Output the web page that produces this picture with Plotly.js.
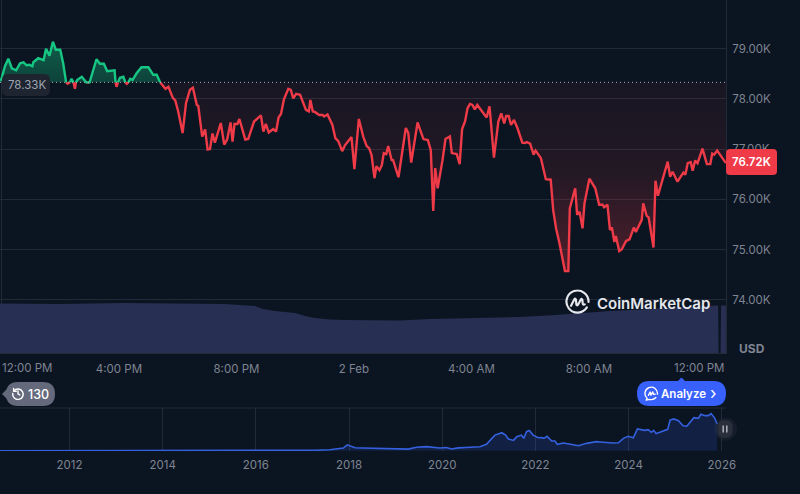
<!DOCTYPE html>
<html>
<head>
<meta charset="utf-8">
<script src="https://cdn.plot.ly/plotly-3.0.1.min.js"></script>
<style>html,body{margin:0;padding:0;background:#0b1421;overflow:hidden}#chart{width:800px;height:494px}</style>
</head>
<body>
<div id="chart"></div>
<script>
// Minutes after 12:00 PM, price in thousands of USD
const priceMinutes = [-3,0,7,14,21,30,38,45,51,57,63,65,75,86,91,98,105,111,120,126,132,135,140,143,147,150,152,155,164,173,180,194,201,209,216,231,233,235,238,242,249,253,256,259,263,268,276,286,300,310,317,324,335,341,350,355,361,370,377,385,391,399,402,410,416,421,426,431,436,448,455,461,468,472,476,482,486,498,504,516,530,535,540,546,555,561,566,571,577,586,591,596,602,610,622,628,631,636,640,649,656,659,666,676,682,688,696,702,715,721,730,739,746,751,756,762,766,772,777,781,786,790,797,800,811,826,831,837,850,862,871,877,882,886,891,901,907,916,920,930,936,941,947,952,957,962,967,972,991,997,1006,1015,1021,1027,1031,1036,1041,1047,1054,1064,1070,1073,1080,1087,1091,1102,1112,1122,1127,1133,1140,1151,1158,1161,1172,1176,1181,1187,1191,1201,1213,1221,1228,1231,1238,1243,1247,1252,1255,1262,1267,1276,1283,1292,1296,1308,1311,1318,1322,1332,1336,1341,1352,1361,1366,1371,1381,1393,1397,1402,1408,1412,1417,1422,1432,1441,1448,1452,1456,1462,1480];
const priceK = [78.36,78.40,78.65,78.80,78.61,78.57,78.71,78.73,78.67,78.68,78.65,78.73,78.81,78.77,79.00,78.86,79.14,78.98,78.98,78.71,78.33,78.30,78.33,78.40,78.33,78.20,78.33,78.38,78.44,78.33,78.33,78.79,78.70,78.70,78.55,78.57,78.33,78.24,78.33,78.42,78.44,78.33,78.30,78.33,78.40,78.38,78.51,78.63,78.63,78.48,78.48,78.33,78.20,78.24,78.02,77.97,77.75,77.32,77.92,78.18,78.22,77.88,77.86,77.25,77.39,76.99,77.00,77.31,77.13,77.52,77.09,77.19,77.53,77.15,77.50,77.50,77.60,77.19,77.20,77.55,77.67,77.35,77.50,77.33,77.40,77.35,77.63,77.70,77.99,78.20,78.18,78.01,78.10,78.08,77.78,77.75,77.98,77.75,77.74,77.68,77.68,77.65,77.69,77.48,77.22,77.16,76.96,77.08,77.24,76.60,77.60,77.25,77.06,77.02,76.88,76.42,76.66,76.58,76.68,76.92,76.90,77.06,76.78,76.78,76.44,77.42,77.32,76.73,77.53,77.20,77.18,76.98,75.77,76.62,76.22,76.78,77.20,77.25,76.92,76.90,76.70,77.40,77.55,77.81,77.90,77.88,77.79,77.88,77.63,77.85,76.83,77.55,77.71,77.51,77.66,77.66,77.48,77.58,77.42,77.13,77.12,77.14,77.11,76.89,76.97,76.82,76.40,76.39,75.79,75.42,75.12,74.57,74.57,75.82,76.22,75.69,75.75,75.42,75.92,76.41,76.22,75.89,75.89,75.84,75.89,75.39,75.44,75.15,75.27,74.97,75.00,75.17,75.20,75.44,75.35,75.59,75.92,75.67,75.64,75.04,76.37,76.07,76.42,76.75,76.45,76.55,76.35,76.53,76.49,76.72,76.74,76.57,76.77,76.72,77.01,76.70,76.70,76.91,76.89,76.97,76.72];
const basePrice = 78.33;

const volumeMinutes = [-3,79,120,252,344,405,457,487,518,534,559,600,620,640,671,702,814,875,957,1059,1131,1182,1243,1325,1396,1464,1465,1469,1470,1480];
const volumeB = [49.5,49,49,50,49.5,49,49,48,47,44,42,40,37,35,33.5,33,32.5,34,35,36,38,40,42,44,46,47.5,0,0,47.5,47.5];

const historyYears = [2010.5,2013,2014,2016,2017,2017.3,2017.59,2017.88,2017.96,2018.03,2018.13,2018.3,2018.8,2018.95,2019.27,2019.45,2019.66,2019.95,2020.09,2020.2,2020.34,2020.6,2020.81,2020.95,2021.06,2021.13,2021.28,2021.36,2021.42,2021.53,2021.6,2021.7,2021.75,2021.81,2021.87,2021.95,2022.06,2022.13,2022.18,2022.25,2022.35,2022.42,2022.47,2022.6,2022.81,2022.92,2023.1,2023.19,2023.31,2023.39,2023.49,2023.67,2023.78,2023.89,2023.99,2024.1,2024.19,2024.28,2024.35,2024.42,2024.49,2024.54,2024.59,2024.67,2024.74,2024.84,2024.89,2024.97,2025.07,2025.17,2025.25,2025.33,2025.4,2025.5,2025.55,2025.64,2025.71,2025.77,2025.85,2025.9];
const historyK = [0,0.1,0.7,0.4,1,1.5,3,9,20,16,10,9,7,4.5,5.5,12,14,9,11,6,9.5,11.5,13.6,21.6,42,53,61,53,39.7,35,47.7,53,42,64.7,69,53,44,45,42,48.8,33,33,21.6,26,20.5,17,25,27,30.7,29.5,28,26,27,42,48.8,44,73.7,72,69,71.5,62.4,69,58,62.4,67,72.6,104,107.8,102,85,83,98.7,112,110,123.6,119,119,126,110,89.6];

const timeTickVals = [240,480,720,960,1200];
const timeTickText = ['4:00 PM','8:00 PM','2 Feb','4:00 AM','8:00 AM'];
const priceTickVals = [74,75,76,77,78,79];
const priceTickText = ['74.00K','75.00K','76.00K','77.00K','78.00K','79.00K'];
const yearTicks = [2012,2014,2016,2018,2020,2022,2024,2026];

const W = 800, H = 494, PLOT_R = 726, MAIN_B = 353, MINI_T = 408, MINI_B = 451;
const BG = '#0b1421', GRID = '#222a37', GREEN = '#16c784', RED = '#ef3a48';
const FONT = 'Inter, "Noto Sans", sans-serif';
const px = v => v / W, py = v => 1 - v / H;

function rr(x0, y0, x1, y1, r) {
  const X = px, Y = py;
  const dx = r / W, dy = r / H;
  return `M${X(x0)+dx},${Y(y0)} L${X(x1)-dx},${Y(y0)} Q${X(x1)},${Y(y0)} ${X(x1)},${Y(y0)-dy} L${X(x1)},${Y(y1)+dy} Q${X(x1)},${Y(y1)} ${X(x1)-dx},${Y(y1)} L${X(x0)+dx},${Y(y1)} Q${X(x0)},${Y(y1)} ${X(x0)},${Y(y1)+dy} L${X(x0)},${Y(y0)-dy} Q${X(x0)},${Y(y0)} ${X(x0)+dx},${Y(y0)} Z`;
}
const svg = s => 'data:image/svg+xml;charset=utf-8,' + encodeURIComponent(s);

const baseLine = priceMinutes.map(() => basePrice);
const hidden = {color: 'rgba(0,0,0,0)', width: 0};
const traces = [
  {x: priceMinutes, y: baseLine, mode: 'lines', line: hidden, hoverinfo: 'skip', showlegend: false},
  {x: priceMinutes, y: priceK.map(p => Math.max(p, basePrice)), mode: 'lines', line: hidden, fill: 'tonexty',
   fillgradient: {type: 'vertical', start: 79.2, stop: basePrice, colorscale: [[0, 'rgba(22,199,132,0.42)'], [1, 'rgba(22,199,132,0.26)']]},
   hoverinfo: 'skip', showlegend: false},
  {x: priceMinutes, y: baseLine, mode: 'lines', line: hidden, hoverinfo: 'skip', showlegend: false},
  {x: priceMinutes, y: priceK.map(p => Math.min(p, basePrice)), mode: 'lines', line: hidden, fill: 'tonexty',
   fillgradient: {type: 'vertical', start: 74.6, stop: basePrice, colorscale: [[0, 'rgba(234,57,67,0.30)'], [0.55, 'rgba(234,57,67,0.10)'], [1, 'rgba(234,57,67,0.06)']]},
   hoverinfo: 'skip', showlegend: false},
  {x: priceMinutes, y: priceK.map(p => p <= basePrice ? p : null), mode: 'lines', line: {color: RED, width: 2.4}, connectgaps: false, showlegend: false},
  {x: priceMinutes, y: priceK.map(p => p >= basePrice ? p : null), mode: 'lines', line: {color: GREEN, width: 2.4}, connectgaps: false, showlegend: false},
  {x: volumeMinutes, y: volumeB, yaxis: 'y2', mode: 'lines', line: {width: 0, color: '#272f52'}, fill: 'tozeroy', fillcolor: '#272f52', showlegend: false},
  {x: historyYears, y: historyK, xaxis: 'x2', yaxis: 'y3', mode: 'lines', line: {color: '#3561e0', width: 1.6}, fill: 'tozeroy', fillcolor: 'rgba(56,97,251,0.16)', showlegend: false}
];

const logoSvg = svg(`<svg xmlns="http://www.w3.org/2000/svg" viewBox="0 0 24 24"><g fill="none" stroke="#e4e7ec" stroke-width="2.1" stroke-linecap="round" stroke-linejoin="round"><path d="M21 17.2A10.6 10.6 0 1 1 22.6 12"/><path d="M5.8 15.6L9 9.4C9.5 8.4 10.4 8.8 10.5 9.8L10.9 14.2C11 15.3 11.9 15.5 12.5 14.6L15.2 9.6C15.8 8.7 16.6 9 16.7 10L17 13.4C17.1 14.4 17.9 14.9 19 14.3"/></g></svg>`);
const clockSvg = svg(`<svg xmlns="http://www.w3.org/2000/svg" viewBox="0 0 24 24"><g fill="none" stroke="#ffffff" stroke-width="2.5" stroke-linecap="round" stroke-linejoin="round"><path d="M5 7.5A9 9 0 1 1 3 12"/><path d="M4.5 3.5V8H9"/><path d="M12 7.5V12.5L15 14.5"/></g></svg>`);
const askSvg = svg(`<svg xmlns="http://www.w3.org/2000/svg" viewBox="0 0 24 24"><g fill="none" stroke="#ffffff" stroke-width="2.2" stroke-linecap="round" stroke-linejoin="round"><path d="M21.5 13A10 10 0 1 0 5 19.5L3.5 22.5L9 21.3A10 10 0 0 0 19 18.5"/><path d="M7 15L9.8 9.6L11 14.5L14 9.4L15.2 13.5L18 13"/></g></svg>`);

const layout = {
  width: W, height: H,
  margin: {l: 0, r: 0, t: 0, b: 0, pad: 0},
  paper_bgcolor: BG, plot_bgcolor: BG,
  showlegend: false,
  font: {family: FONT, color: '#7f8592', size: 12},
  xaxis: {domain: [0, px(PLOT_R)], range: [-3.06, 1480.1], anchor: 'y', tickmode: 'array', tickvals: timeTickVals, ticktext: timeTickText,
          showgrid: false, zeroline: false, showline: true, linecolor: GRID, linewidth: 1, ticks: '', tickfont: {size: 11.5, color: '#7f8592'}, ticklabelstandoff: 5},
  yaxis: {domain: [py(MAIN_B), 1], range: [72.938, 79.97], side: 'right', anchor: 'x', tickmode: 'array', tickvals: priceTickVals, ticktext: priceTickText,
          showgrid: true, gridcolor: GRID, gridwidth: 1, zeroline: false, showline: true, linecolor: GRID, linewidth: 1, ticks: '', tickfont: {size: 11.5, color: '#7f8592'}, ticklabelstandoff: 3},
  yaxis2: {overlaying: 'y', range: [0, 353], visible: false, side: 'left', anchor: 'x'},
  xaxis2: {domain: [0, px(PLOT_R)], range: [2010.51, 2026.09], anchor: 'y3', tickmode: 'array', tickvals: yearTicks, ticktext: yearTicks.map(String),
           showgrid: true, gridcolor: GRID, gridwidth: 1, zeroline: false, showline: false, ticks: '', tickfont: {size: 11.5, color: '#7f8592'}, ticklabelstandoff: 5},
  yaxis3: {domain: [py(MINI_B), py(MINI_T)], range: [-1, 145], anchor: 'x2', visible: false, showgrid: false, zeroline: false},
  shapes: [
    {type: 'line', xref: 'x', yref: 'y', x0: -3.06, x1: 1480.1, y0: basePrice, y1: basePrice, layer: 'above', line: {color: '#aab0bb', width: 1, dash: '1px,3px'}},
    {type: 'line', xref: 'paper', yref: 'paper', x0: px(1.5), x1: px(1.5), y0: py(0), y1: py(MAIN_B), layer: 'below', line: {color: GRID, width: 1}},
    {type: 'line', xref: 'paper', yref: 'paper', x0: 0, x1: px(PLOT_R), y0: py(MINI_T), y1: py(MINI_T), layer: 'below', line: {color: GRID, width: 1}},
    {type: 'path', xref: 'paper', yref: 'paper', path: rr(2, 74, 50, 96, 6), fillcolor: '#1e2531', line: {width: 0}, layer: 'above'},
    {type: 'path', xref: 'paper', yref: 'paper', path: rr(726, 149, 777, 175, 4), fillcolor: RED, line: {width: 0}, layer: 'above'},
    {type: 'path', xref: 'paper', yref: 'paper', path: rr(6, 382, 55, 406, 12), fillcolor: '#646a7c', line: {width: 0}, layer: 'below'},
    {type: 'path', xref: 'paper', yref: 'paper', path: `M${px(2)},${py(394)} L${px(10)},${py(386)} L${px(10)},${py(402)} Z`, fillcolor: '#646a7c', line: {width: 0}, layer: 'below'},
    {type: 'path', xref: 'paper', yref: 'paper', path: rr(637, 381, 726, 406, 12.5), fillcolor: '#3861fb', line: {width: 0}, layer: 'below'},
    {type: 'path', xref: 'paper', yref: 'paper', path: `M${px(677)},${py(382)} L${px(681.5)},${py(377.5)} L${px(686)},${py(382)} Z`, fillcolor: '#3861fb', line: {width: 0}, layer: 'below'},
    {type: 'circle', xref: 'paper', yref: 'paper', x0: px(714), x1: px(737), y0: py(417.5), y1: py(440.5), fillcolor: 'rgba(60,66,82,0.22)', line: {width: 0}, layer: 'above'},
    {type: 'path', xref: 'paper', yref: 'paper', path: rr(717.5, 420, 732.5, 438, 7), fillcolor: '#2a2f3c', line: {width: 0}, layer: 'above'},
    {type: 'line', xref: 'paper', yref: 'paper', x0: px(723.2), x1: px(723.2), y0: py(425.5), y1: py(432.5), line: {color: '#aeb3bd', width: 1.5}, layer: 'above'},
    {type: 'line', xref: 'paper', yref: 'paper', x0: px(726.8), x1: px(726.8), y0: py(425.5), y1: py(432.5), line: {color: '#aeb3bd', width: 1.5}, layer: 'above'}
  ],
  images: [
    {source: logoSvg, xref: 'paper', yref: 'paper', x: px(565), y: py(289.5), sizex: px(25), sizey: 25 / H, sizing: 'stretch', xanchor: 'left', yanchor: 'top', layer: 'above'},
    {source: clockSvg, xref: 'paper', yref: 'paper', x: px(11), y: py(386.5), sizex: px(14), sizey: 14 / H, sizing: 'stretch', xanchor: 'left', yanchor: 'top', layer: 'above'},
    {source: askSvg, xref: 'paper', yref: 'paper', x: px(644), y: py(386), sizex: px(15), sizey: 15 / H, sizing: 'stretch', xanchor: 'left', yanchor: 'top', layer: 'above'}
  ],
  annotations: [
    {text: '12:00 PM', x: px(27), y: py(368), font: {size: 11.5, color: '#7f8592'}},
    {text: '12:00 PM', x: px(699), y: py(368), font: {size: 11.5, color: '#7f8592'}},
    {text: 'USD', x: px(752), y: py(348), font: {size: 12, color: '#7f8592', weight: 700}},
    {text: '78.33K', x: px(27), y: py(85), font: {size: 11.5, color: '#9fa5b1'}},
    {text: '76.72K', x: px(751.5), y: py(162), font: {size: 11.5, color: '#ffffff', weight: 600}},
    {text: 'CoinMarketCap', x: px(653.5), y: py(303), font: {size: 15, color: '#e4e7ec', weight: 600}},
    {text: '130', x: px(38.5), y: py(394), font: {size: 12.5, color: '#ffffff', weight: 500}},
    {text: 'Analyze', x: px(683.5), y: py(394), font: {size: 11.5, color: '#ffffff', weight: 600}},
    {text: '›', x: px(713), y: py(392.5), font: {size: 17, color: '#ffffff'}}
  ].map(a => Object.assign({xref: 'paper', yref: 'paper', showarrow: false, xanchor: 'center', yanchor: 'middle'}, a))
};

Plotly.newPlot('chart', traces, layout, {displayModeBar: false, staticPlot: true});
</script>
</body>
</html>
